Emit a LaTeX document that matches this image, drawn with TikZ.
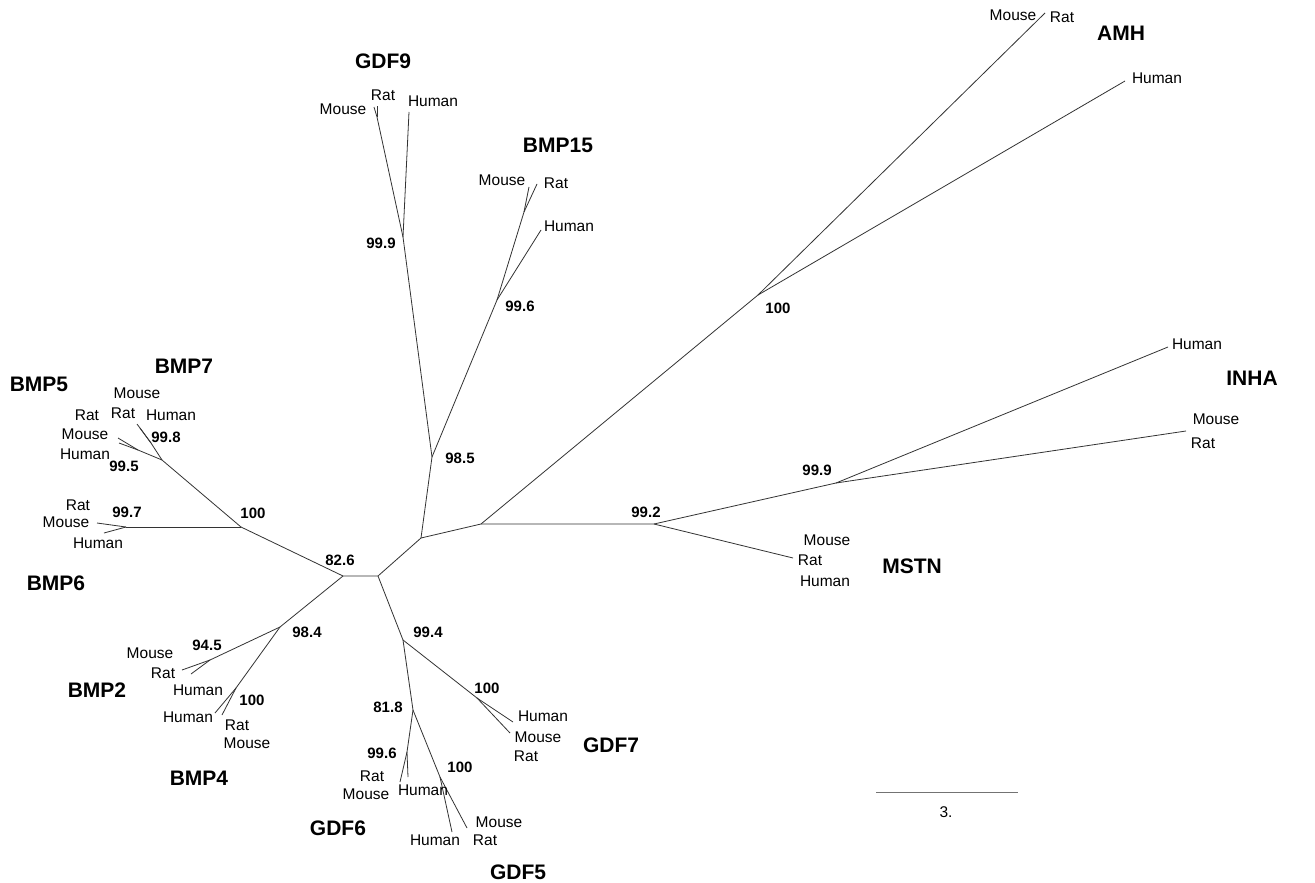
\documentclass[tikz,border=0pt]{standalone}
\usepackage{fontspec}
\setmainfont{Liberation Sans}
\begin{document}
\begin{tikzpicture}[x=1pt,y=-1pt,
  br/.style={draw=black!80,line width=0.8pt},
  sp/.style={font=\fontsize{15.5}{16}\selectfont, inner sep=0pt},
  grp/.style={font=\fontsize{21}{22}\selectfont\bfseries, inner sep=0pt},
  bs/.style={font=\fontsize{15}{16}\selectfont\bfseries, inner sep=0pt}]
\useasboundingbox[fill=white] (0,0) rectangle (1315,883);
% internal nodes
\coordinate (A) at (343,576);
\coordinate (B) at (378,576);
\coordinate (C) at (421,538);
\coordinate (D) at (481,524);
\coordinate (E) at (432,457);
\coordinate (F) at (654,524);
\coordinate (G) at (241,527);
\coordinate (I) at (162,460);
\coordinate (J) at (151,443);
\coordinate (K5) at (138,450);
\coordinate (H) at (126,527);
\coordinate (K) at (280,627);
\coordinate (L) at (210,660);
\coordinate (M) at (236,688);
\coordinate (N) at (403,640);
\coordinate (O) at (477,698);
\coordinate (P) at (413,710);
\coordinate (Q) at (407,752);
\coordinate (R) at (440,777);
\coordinate (S) at (836,483);
\coordinate (T) at (758,295);
\coordinate (U) at (403,237);
\coordinate (U2) at (377,117);
\coordinate (V) at (497,300);
\coordinate (V2) at (524,212);
% tips
\coordinate (bmp7a) at (137,424);
\coordinate (bmp7b) at (140,428);
\coordinate (bmp5a) at (118,438);
\coordinate (bmp5b) at (119,443);
\coordinate (bmp6a) at (97,523);
\coordinate (bmp6b) at (104,533);
\coordinate (bmp2a) at (182,670);
\coordinate (bmp2b) at (191,674);
\coordinate (bmp4a) at (215,713);
\coordinate (bmp4b) at (222,715);
\coordinate (gdf7a) at (513,722);
\coordinate (gdf7b) at (510,733);
\coordinate (gdf6a) at (400,782);
\coordinate (gdf6b) at (408,777);
\coordinate (gdf5a) at (452,832);
\coordinate (gdf5b) at (467,828);
\coordinate (mstn) at (793,558);
\coordinate (inhaH) at (1168,347);
\coordinate (inhaM) at (1186,431);
\coordinate (amhMR) at (1045,13);
\coordinate (amhH) at (1125,81);
\coordinate (gdf9M) at (374,107);
\coordinate (gdf9R) at (377,106);
\coordinate (gdf9H) at (409,112);
\coordinate (bmp15M) at (529,187);
\coordinate (bmp15R) at (537,184);
\coordinate (bmp15H) at (541,230);
% branches
\draw[br] (A) -- (B) -- (C) -- (D) -- (F);
\draw[br] (C) -- (E);
\draw[br] (E) -- (U); \draw[br] (U) -- (U2) -- (gdf9M); \draw[br] (U2) -- (gdf9R); \draw[br] (U) -- (gdf9H);
\draw[br] (E) -- (V); \draw[br] (V) -- (V2) -- (bmp15M); \draw[br] (V2) -- (bmp15R); \draw[br] (V) -- (bmp15H);
\draw[br] (D) -- (T); \draw[br] (T) -- (amhMR); \draw[br] (T) -- (amhH);
\draw[br] (F) -- (S); \draw[br] (S) -- (inhaH); \draw[br] (S) -- (inhaM);
\draw[br] (F) -- (mstn);
\draw[br] (A) -- (G); \draw[br] (G) -- (H); \draw[br] (H) -- (bmp6a); \draw[br] (H) -- (bmp6b);
\draw[br] (G) -- (I); \draw[br] (I) -- (J); \draw[br] (J) -- (bmp7a); \draw[br] (J) -- (bmp7b);
\draw[br] (I) -- (K5); \draw[br] (K5) -- (bmp5a); \draw[br] (K5) -- (bmp5b);
\draw[br] (A) -- (K); \draw[br] (K) -- (L); \draw[br] (L) -- (bmp2a); \draw[br] (L) -- (bmp2b);
\draw[br] (K) -- (M); \draw[br] (M) -- (bmp4a); \draw[br] (M) -- (bmp4b);
\draw[br] (B) -- (N); \draw[br] (N) -- (O); \draw[br] (O) -- (gdf7a); \draw[br] (O) -- (gdf7b);
\draw[br] (N) -- (P); \draw[br] (P) -- (Q); \draw[br] (Q) -- (gdf6a); \draw[br] (Q) -- (gdf6b);
\draw[br] (P) -- (R); \draw[br] (R) -- (gdf5a); \draw[br] (R) -- (gdf5b);
% group labels
\node[grp] (lBMP7) at (184,366) {BMP7};
\node[grp] (lBMP5) at (39,384) {BMP5};
\node[grp] (lBMP6) at (56,583) {BMP6};
\node[grp] (lBMP2) at (97,690) {BMP2};
\node[grp] (lBMP4) at (199,778) {BMP4};
\node[grp] (lGDF6) at (338,828) {GDF6};
\node[grp] (lGDF5) at (518,872) {GDF5};
\node[grp] (lGDF7) at (611,745) {GDF7};
\node[grp] (lMSTN) at (912,566) {MSTN};
\node[grp] (lINHA) at (1252,378) {INHA};
\node[grp] (lAMH) at (1121,33) {AMH};
\node[grp] (lGDF9) at (383,61) {GDF9};
\node[grp] (lBMP15) at (558,145) {BMP15};
% species labels
\node[sp] (s1) at (137,393) {Mouse};
\node[sp] (s2) at (123,413) {Rat};
\node[sp] (s3) at (171,415) {Human};
\node[sp] (s4) at (87,415) {Rat};
\node[sp] (s5) at (85,434) {Mouse};
\node[sp] (s6) at (85,454) {Human};
\node[sp] (s7) at (78,505) {Rat};
\node[sp] (s8) at (66,522) {Mouse};
\node[sp] (s9) at (98,543) {Human};
\node[sp] (s10) at (150,653) {Mouse};
\node[sp] (s11) at (163,673) {Rat};
\node[sp] (s12) at (198,690) {Human};
\node[sp] (s13) at (188,717) {Human};
\node[sp] (s14) at (237,725) {Rat};
\node[sp] (s15) at (247,743) {Mouse};
\node[sp] (s16) at (372,776) {Rat};
\node[sp] (s17) at (366,794) {Mouse};
\node[sp] (s18) at (423,790) {Human};
\node[sp] (s19) at (499,822) {Mouse};
\node[sp] (s20) at (485,840) {Rat};
\node[sp] (s21) at (435,840) {Human};
\node[sp] (s22) at (543,716) {Human};
\node[sp] (s23) at (538,737) {Mouse};
\node[sp] (s24) at (526,756) {Rat};
\node[sp] (s25) at (827,540) {Mouse};
\node[sp] (s26) at (810,560) {Rat};
\node[sp] (s27) at (825,581) {Human};
\node[sp] (s28) at (1197,344) {Human};
\node[sp] (s29) at (1216,419) {Mouse};
\node[sp] (s30) at (1203,443) {Rat};
\node[sp] (s31) at (1013,15) {Mouse};
\node[sp] (s32) at (1062,17) {Rat};
\node[sp] (s33) at (1157,78) {Human};
\node[sp] (s34) at (343,109) {Mouse};
\node[sp] (s35) at (383,95) {Rat};
\node[sp] (s36) at (433,101) {Human};
\node[sp] (s37) at (502,180) {Mouse};
\node[sp] (s38) at (556,183) {Rat};
\node[sp] (s39) at (569,226) {Human};
% bootstrap values
\node[bs] (b1) at (166,437) {99.8};
\node[bs] (b2) at (124,466) {99.5};
\node[bs] (b3) at (253,513) {100};
\node[bs] (b4) at (127,512) {99.7};
\node[bs] (b5) at (340,560) {82.6};
\node[bs] (b6) at (207,645) {94.5};
\node[bs] (b7) at (307,632) {98.4};
\node[bs] (b8) at (252,700) {100};
\node[bs] (b9) at (428,632) {99.4};
\node[bs] (b10) at (487,688) {100};
\node[bs] (b11) at (388,707) {81.8};
\node[bs] (b12) at (382,753) {99.6};
\node[bs] (b13) at (460,767) {100};
\node[bs] (b14) at (460,458) {98.5};
\node[bs] (b15) at (381,243) {99.9};
\node[bs] (b16) at (520,306) {99.6};
\node[bs] (b17) at (778,308) {100};
\node[bs] (b18) at (817,470) {99.9};
\node[bs] (b19) at (646,512) {99.2};
% scale bar
\coordinate (sb1) at (876,792);
\coordinate (sb2) at (1018,792);
\draw[draw=black!55,line width=1pt] (sb1) -- (sb2);
\node[sp] (sbl) at (946,812) {3.};
\end{tikzpicture}
\end{document}
